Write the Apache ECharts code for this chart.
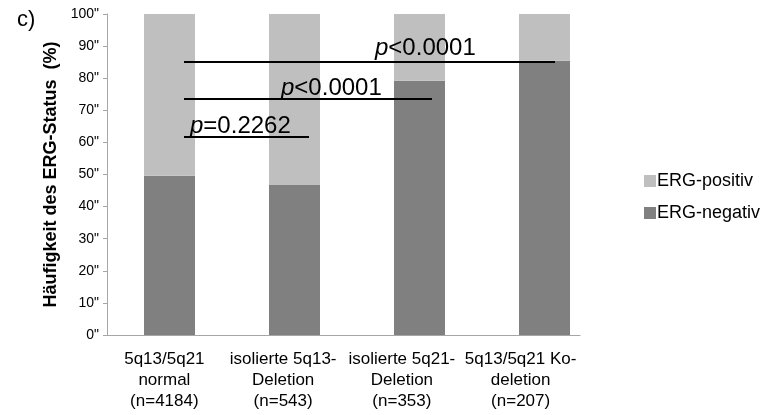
<!DOCTYPE html>
<html>
<head>
<meta charset="utf-8">
<script src="https://cdn.jsdelivr.net/npm/echarts@6/dist/echarts.min.js"></script>
<style>
  html, body { margin: 0; padding: 0; background: #fff; }
  #chart { width: 762px; height: 415px; }
</style>
</head>
<body>
<div id="chart"></div>
<script>
const categories = [
  '5q13/5q21\nnormal\n(n=4184)',
  'isolierte 5q13-\nDeletion\n(n=543)',
  'isolierte 5q21-\nDeletion\n(n=353)',
  '5q13/5q21 Ko-\ndeletion\n(n=207)',
];
const ergNegativ = [49.6, 46.7, 79.2, 85.4];
const ergPositiv = [50.4, 53.3, 20.8, 14.6];

// significance brackets (x in category units on the hidden value axis)
const pTexts = ['p<0.0001', 'p<0.0001', 'p=0.2262'];
const pLineStart = [0.616, 0.616, 0.616];
const pLineEnd = [3.584, 2.6, 1.616];
const pLineY = [85.1, 73.5, 61.7];
const pLabelX = [2.144, 1.392, 0.664];
const pLabelY = [89.4, 76.9, 65.1];

const chart = echarts.init(document.getElementById('chart'));
const font = 'Arial, "Liberation Sans", sans-serif';

const option = {
  animation: false,
  textStyle: { fontFamily: font },
  title: {
    text: 'c)',
    left: 12,
    top: 4,
    textStyle: { fontSize: 22, fontWeight: 'normal', color: '#000', fontFamily: font },
  },
  legend: {
    orient: 'vertical',
    left: 639,
    top: 167,
    itemWidth: 12,
    itemHeight: 12,
    itemGap: 14,
    icon: 'rect',
    data: ['ERG-positiv', 'ERG-negativ'],
    textStyle: { fontSize: 18, color: '#000', padding: [0, 0, 0, -4] },
  },
  grid: [
    { left: 105, right: 182, top: 14, bottom: 80 },
    // bars are drawn a little wider apart than the label ticks, as in the source
    { left: 107, right: 155, top: 14, bottom: 80 },
  ],
  xAxis: [
    {
      type: 'category',
      data: categories,
      axisLine: { lineStyle: { color: '#a6a6a6' } },
      axisTick: { length: 5, lineStyle: { color: '#a6a6a6' } },
      axisLabel: { fontSize: 17, lineHeight: 21, color: '#000', margin: 14, interval: 0 },
    },
    {
      type: 'value',
      min: -0.016,
      max: 3.784,
      show: false,
    },
    {
      type: 'category',
      gridIndex: 1,
      data: categories,
      show: false,
    },
  ],
  yAxis: [
    {
      type: 'value',
      min: 0,
      max: 100,
      interval: 10,
      name: 'Häufigkeit des ERG-Status  (%)',
      nameLocation: 'middle',
      nameGap: 42,
      nameTextStyle: { fontSize: 18, fontWeight: 'bold', color: '#000' },
      axisLine: { show: true, lineStyle: { color: '#a6a6a6' } },
      axisTick: { show: true, length: 4, lineStyle: { color: '#a6a6a6' } },
      axisLabel: { formatter: '{value}"', fontSize: 14, color: '#000', margin: 6 },
      splitLine: { show: false },
    },
    {
      type: 'value',
      gridIndex: 1,
      min: 0,
      max: 100,
      show: false,
    },
  ],
  series: [
    {
      name: 'ERG-negativ',
      type: 'bar',
      xAxisIndex: 2,
      yAxisIndex: 1,
      stack: 'erg',
      barWidth: 51,
      itemStyle: { color: '#808080' },
      data: ergNegativ,
    },
    {
      name: 'ERG-positiv',
      type: 'bar',
      xAxisIndex: 2,
      yAxisIndex: 1,
      stack: 'erg',
      barWidth: 51,
      itemStyle: { color: '#bfbfbf' },
      data: ergPositiv,
    },
    {
      name: 'p',
      type: 'scatter',
      xAxisIndex: 1,
      symbolSize: 0,
      silent: true,
      z: 5,
      itemStyle: { color: '#000', opacity: 1 },
      data: pLabelX.map((x, i) => [x, pLabelY[i]]),
      label: {
        show: true,
        position: 'right',
        distance: 0,
        color: '#000',
        opacity: 1,
        formatter: (p) => '{i|p}{n|' + pTexts[p.dataIndex].slice(1) + '}',
        rich: {
          i: { fontSize: 24, fontStyle: 'italic', color: '#000', fontFamily: font },
          n: { fontSize: 24, color: '#000', fontFamily: font },
        },
      },
      markLine: {
        silent: true,
        symbol: 'none',
        label: { show: false },
        lineStyle: { color: '#000', width: 2, type: 'solid', opacity: 1 },
        data: pLineY.map((y, i) => [
          { coord: [pLineStart[i], y] },
          { coord: [pLineEnd[i], y] },
        ]),
      },
    },
  ],
};

chart.setOption(option);
</script>
</body>
</html>
